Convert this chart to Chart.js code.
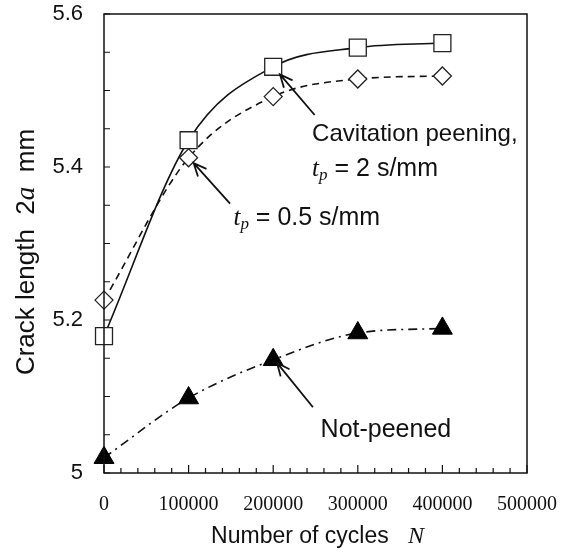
<!DOCTYPE html>
<html>
<head>
<meta charset="utf-8">
<script src="https://cdn.jsdelivr.net/npm/chart.js@4.4.1/dist/chart.umd.min.js"></script>
<style>
  html, body { margin: 0; padding: 0; background: #fff; }
  #wrap { width: 567px; height: 554px; }
</style>
</head>
<body>
<div id="wrap"><canvas id="crackChart"></canvas></div>
<script>
// --- data ---
const cycles = [0, 100000, 200000, 300000, 400000];
const peenedTp2 = [5.179, 5.435, 5.531, 5.556, 5.562];
const peenedTp05 = [5.226, 5.412, 5.492, 5.515, 5.519];
const notPeened = [5.020, 5.098, 5.148, 5.183, 5.189];
const xTickValues = [0, 100000, 200000, 300000, 400000, 500000];
const yTickValues = [5, 5.2, 5.4, 5.6];

const SANS = '"Liberation Sans", Arial, sans-serif';
const SERIF = '"Liberation Serif", "Times New Roman", serif';

// arrows: [tailX, tailY, tipX, tipY] in data units
const arrows = [
    [249000, 5.468, 208000, 5.521],
    [149000, 5.352, 106000, 5.405],
    [247000, 5.086, 204500, 5.144]
];

function drawRuns(ctx, x, y, runs, align) {
    let total = 0;
    runs.forEach(r => { ctx.font = r.font; r.w = ctx.measureText(r.t).width; total += r.w; });
    let cx = align === 'center' ? x - total / 2 : x;
    runs.forEach(r => {
        ctx.font = r.font;
        ctx.fillText(r.t, cx, y + (r.dy || 0));
        cx += r.w;
    });
}

function arrow(ctx, x1, y1, x2, y2) {
    const ang = Math.atan2(y2 - y1, x2 - x1);
    const head = 14, spread = 0.42;
    ctx.beginPath();
    ctx.moveTo(x1, y1);
    ctx.lineTo(x2, y2);
    ctx.moveTo(x2 - head * Math.cos(ang - spread), y2 - head * Math.sin(ang - spread));
    ctx.lineTo(x2, y2);
    ctx.lineTo(x2 - head * Math.cos(ang + spread), y2 - head * Math.sin(ang + spread));
    ctx.stroke();
}

const decorations = {
    id: 'decorations',
    afterDraw(chart) {
        const { ctx, chartArea: a, scales: { x, y } } = chart;
        ctx.save();
        ctx.strokeStyle = '#111';
        ctx.fillStyle = '#111';
        ctx.lineWidth = 1.5;
        ctx.setLineDash([]);
        ctx.strokeRect(a.left, a.top, a.right - a.left, a.bottom - a.top);

        // inward minor ticks
        ctx.lineWidth = 1.2;
        ctx.beginPath();
        for (let v = 0; v <= 500000; v += 20000) {
            const px = x.getPixelForValue(v);
            const len = v % 100000 === 0 ? 8 : 5;
            ctx.moveTo(px, a.bottom);
            ctx.lineTo(px, a.bottom - len);
        }
        for (let i = 0; i <= 12; i++) {
            const py = y.getPixelForValue(5 + i * 0.05);
            ctx.moveTo(a.left, py);
            ctx.lineTo(a.left + 6, py);
        }
        ctx.stroke();

        // arrows
        ctx.lineWidth = 1.8;
        arrows.forEach(([tx, ty, hx, hy]) => {
            arrow(ctx, x.getPixelForValue(tx), y.getPixelForValue(ty),
                  x.getPixelForValue(hx), y.getPixelForValue(hy));
        });

        // annotation text
        ctx.textBaseline = 'middle';
        ctx.textAlign = 'left';
        const f = '25px ' + SANS;
        const it = 'italic 25px ' + SERIF;
        const sub = 'italic 17px ' + SERIF;
        drawRuns(ctx, x.getPixelForValue(246000), y.getPixelForValue(5.442),
                 [{ t: 'Cavitation peening,', font: '24px ' + SANS }]);
        drawRuns(ctx, x.getPixelForValue(246000), y.getPixelForValue(5.397),
                 [{ t: 't', font: it }, { t: 'p', font: sub, dy: 6 }, { t: ' = 2 s/mm', font: f }]);
        drawRuns(ctx, x.getPixelForValue(153000), y.getPixelForValue(5.333),
                 [{ t: 't', font: it }, { t: 'p', font: sub, dy: 6 }, { t: ' = 0.5 s/mm', font: f }]);
        drawRuns(ctx, x.getPixelForValue(256000), y.getPixelForValue(5.056),
                 [{ t: 'Not-peened', font: f }]);

        // axis titles
        const fx = '23px ' + SANS;
        drawRuns(ctx, (a.left + a.right) / 2 + 2, 537,
                 [{ t: 'Number of cycles   ', font: fx }, { t: 'N', font: 'italic 24px ' + SERIF }], 'center');
        const fy = '26px ' + SANS;
        ctx.translate(27, 252);
        ctx.rotate(-Math.PI / 2);
        drawRuns(ctx, 0, 0,
                 [{ t: 'Crack length  2', font: fy }, { t: 'a', font: 'italic 27px ' + SERIF }, { t: '  mm', font: fy }], 'center');
        ctx.restore();
    }
};

new Chart(document.getElementById('crackChart'), {
    type: 'line',
    data: {
        datasets: [
            {
                label: 'Cavitation peening, tp = 2 s/mm',
                data: cycles.map((c, i) => ({ x: c, y: peenedTp2[i] })),
                borderColor: '#111',
                borderWidth: 1.6,
                pointStyle: 'rect',
                pointRadius: 12,
                pointBorderWidth: 1.3,
                pointBackgroundColor: '#fff',
                pointBorderColor: '#222',
                cubicInterpolationMode: 'monotone'
            },
            {
                label: 'tp = 0.5 s/mm',
                data: cycles.map((c, i) => ({ x: c, y: peenedTp05[i] })),
                borderColor: '#111',
                borderWidth: 1.6,
                borderDash: [7, 5],
                pointStyle: 'rectRot',
                pointRadius: 9,
                pointBorderWidth: 1.3,
                pointBackgroundColor: '#fff',
                pointBorderColor: '#222',
                cubicInterpolationMode: 'monotone'
            },
            {
                label: 'Not-peened',
                data: cycles.map((c, i) => ({ x: c, y: notPeened[i] })),
                borderColor: '#111',
                borderWidth: 1.6,
                borderDash: [9, 5, 2, 5],
                pointStyle: 'triangle',
                pointRadius: 11.5,
                pointBorderWidth: 1,
                pointBackgroundColor: '#000',
                pointBorderColor: '#000',
                cubicInterpolationMode: 'monotone'
            }
        ]
    },
    options: {
        responsive: true,
        maintainAspectRatio: false,
        animation: false,
        clip: false,
        layout: { padding: { top: 14, right: 40, left: 0, bottom: 0 } },
        plugins: { legend: { display: false }, tooltip: { enabled: false } },
        scales: {
            x: {
                type: 'linear',
                min: 0,
                max: 500000,
                afterBuildTicks: s => { s.ticks = xTickValues.map(v => ({ value: v })); },
                afterFit: s => {
                    s.height = 81;
                    s.paddingLeft = 0; s.paddingRight = 0;
                },
                grid: { display: false, drawTicks: false },
                border: { display: false },
                ticks: {
                    color: '#111',
                    padding: 20,
                    maxRotation: 0,
                    autoSkip: false,
                    font: { family: SERIF, size: 20 },
                    callback: v => String(v)
                }
            },
            y: {
                type: 'linear',
                min: 5,
                max: 5.6,
                afterBuildTicks: s => { s.ticks = yTickValues.map(v => ({ value: v })); },
                afterFit: s => {
                    s.width = 104;
                    s.paddingTop = 0; s.paddingBottom = 0;
                },
                grid: { display: false, drawTicks: false },
                border: { display: false },
                ticks: {
                    color: '#111',
                    padding: 21,
                    font: { family: SANS, size: 22 },
                    callback: v => (v === 5 ? '5' : v.toFixed(1))
                }
            }
        }
    },
    plugins: [decorations]
});
</script>
</body>
</html>
